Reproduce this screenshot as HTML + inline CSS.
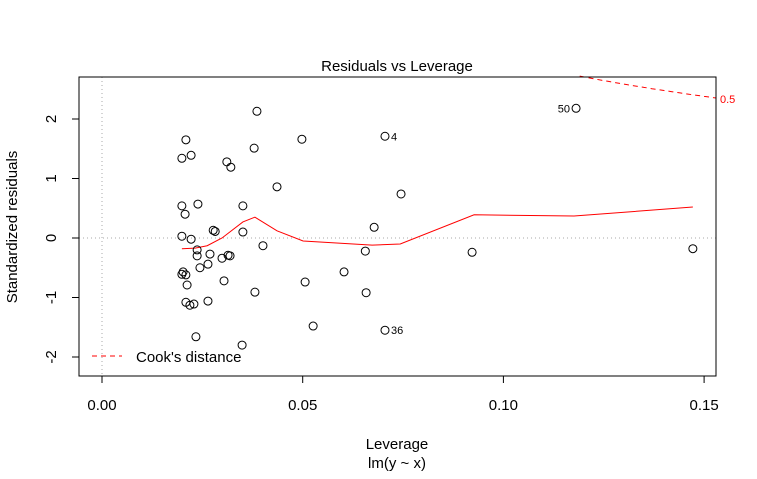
<!DOCTYPE html>
<html><head><meta charset="utf-8"><style>
body{margin:0;background:#fff}
svg{font-family:"Liberation Sans",Arial,sans-serif}
</style></head><body>
<svg id="c" width="757" height="474"></svg>
<script>
const lev=[.0209,.0199,.0222,.0311,.0321,.0386,.0379,.0498,.0705,.1181,.0436,.0745,.0199,.0207,.0239,.0351,.0351,.0277,.0282,.0199,.0222,.0678,.0401,.0656,.0922,.1472,.0237,.0237,.0269,.0314,.0244,.0264,.0299,.0319,.0202,.0199,.0209,.0212,.0304,.0603,.0506,.0658,.0209,.0219,.0229,.0264,.0381,.0526,.0705,.0234,.0349];
const res=[1.65,1.34,1.39,1.28,1.19,2.13,1.51,1.66,1.71,2.18,0.86,0.74,0.54,0.40,0.57,0.54,0.10,0.13,0.11,0.03,-0.02,0.18,-0.13,-0.22,-0.24,-0.18,-0.20,-0.30,-0.27,-0.29,-0.50,-0.44,-0.34,-0.30,-0.57,-0.61,-0.62,-0.79,-0.72,-0.57,-0.74,-0.92,-1.08,-1.13,-1.11,-1.06,-0.91,-1.48,-1.55,-1.66,-1.80];
const labelIdx={9:"50",8:"4",48:"36"};
const smoothX=[.0199,.0232,.0262,.0299,.0351,.0381,.0436,.0501,.0673,.0743,.0927,.1176,.1472];
const smoothY=[-0.18,-0.17,-0.13,0.0,0.27,0.35,0.12,-0.05,-0.12,-0.10,0.39,0.37,0.52];
const xTicks=[0,0.05,0.10,0.15], xTickLabels=["0.00","0.05","0.10","0.15"];
const yTicks=[-2,-1,0,1,2];
const nParams=2, cookLevel=0.5;
const L=79,R=716,T=77,B=376;
const X=v=>102+v*4014, Y=v=>238-v*59.5;
const svg=document.getElementById('c'), NS="http://www.w3.org/2000/svg";
function el(t,a,txt){const e=document.createElementNS(NS,t);for(const k in a)e.setAttribute(k,a[k]);if(txt!=null)e.textContent=txt;svg.appendChild(e);return e;}
let e;
e=el('line',{x1:X(0),x2:X(0),y1:T,y2:B,stroke:'#aaa','stroke-dasharray':'1,3'});


e=el('line',{x1:L,x2:R,y1:Y(0),y2:Y(0),stroke:'#aaa','stroke-dasharray':'1,3'});


let cp=[];for(let h=0.11;h<=0.1535;h+=0.001){const r=Math.sqrt(cookLevel*nParams*(1-h)/h);if(Y(r)>=T-1)cp.push(X(h).toFixed(1)+','+Y(r).toFixed(1));}
e=el('polyline',{points:cp.join(' '),fill:'none',stroke:'#f00','stroke-dasharray':'5,4'});


e=el('text',{x:720,y:103,fill:'#f00','font-size':11},'0.5');


e=el('polyline',{points:smoothX.map((v,i)=>X(v)+','+Y(smoothY[i])).join(' '),fill:'none',stroke:'#f00','stroke-width':1});


lev.forEach((v,i)=>{
  const p=el('circle',{cx:X(v),cy:Y(res[i]),r:4,fill:'none',stroke:'#000','stroke-width':1});
  
  
  if(labelIdx[i]){const lt=el('text',{x:i==9?X(v)-6:X(v)+6,y:Y(res[i])+4,'font-size':11,'text-anchor':i==9?'end':'start'},labelIdx[i]);
  
  }
});
e=el('rect',{x:L,y:T,width:R-L,height:B-T,fill:'none',stroke:'#000'});


xTicks.forEach((v,i)=>{
  const t=el('line',{x1:X(v),x2:X(v),y1:B,y2:B+7,stroke:'#000'});
  
  
  const l=el('text',{x:X(v),y:410,'font-size':15,'text-anchor':'middle'},xTickLabels[i]);
  
  
});
yTicks.forEach(v=>{
  const t=el('line',{x1:L-7,x2:L,y1:Y(v),y2:Y(v),stroke:'#000'});
  
  
  const l=el('text',{x:0,y:0,'font-size':15,'text-anchor':'middle',transform:`translate(56,${Y(v)}) rotate(-90)`},String(v));
  
  
});
e=el('text',{x:397,y:71,'font-size':15,'text-anchor':'middle'},'Residuals vs Leverage');


e=el('text',{x:397,y:449,'font-size':15,'text-anchor':'middle'},'Leverage');


e=el('text',{x:397,y:468,'font-size':15,'text-anchor':'middle'},'lm(y ~ x)');


e=el('text',{x:0,y:0,'font-size':15,'text-anchor':'middle',transform:'translate(17,227) rotate(-90)'},'Standardized residuals');


e=el('line',{x1:92,x2:122,y1:356,y2:356,stroke:'#f00','stroke-dasharray':'5,4'});


e=el('text',{x:136,y:362,'font-size':15},"Cook's distance");


</script>
</body></html>
